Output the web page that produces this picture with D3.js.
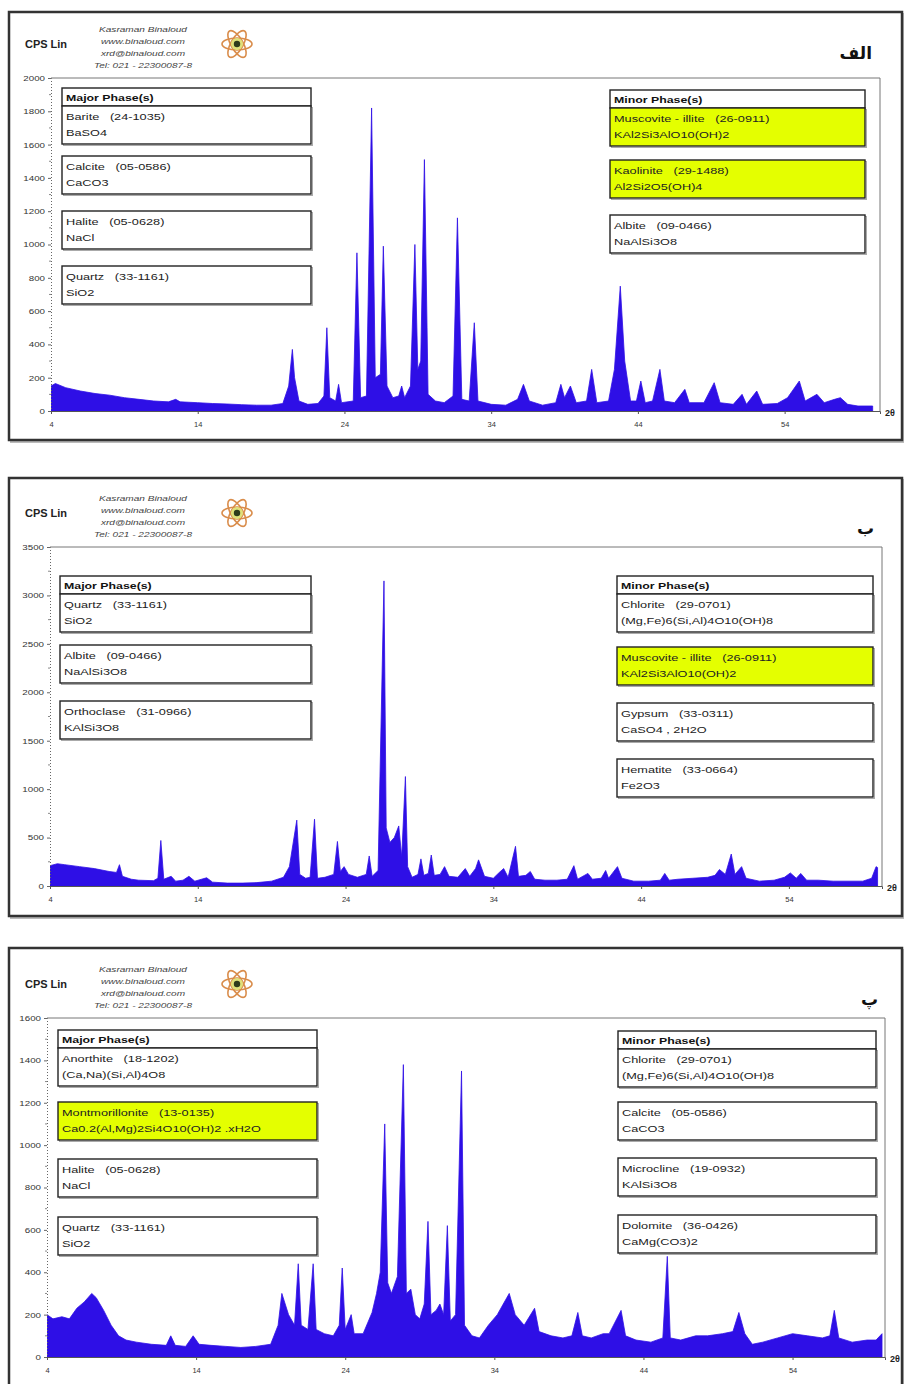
<!DOCTYPE html>
<html>
<head>
<meta charset="utf-8">
<script src="https://cdn.jsdelivr.net/npm/d3@7"></script>
<style>
  body { margin: 0; background: #fff; }
  svg { display: block; font-family: "Liberation Sans", Arial, sans-serif; }
</style>
</head>
<body>
<svg id="chart" width="904" height="1384"></svg>
<script>
// ---- data: [2theta, CPS] ----
const xTicks = [4, 14, 24, 34, 44, 54];

const scanA = [[4,150],[4.3,165],[5,140],[6,120],[7,105],[8,95],[9,80],[10,70],[11,60],[12,55],[12.5,70],[12.8,55],[14,50],[15,45],[16,42],[17,38],[18,35],[19,35],[19.8,45],[20.2,150],[20.45,370],[20.6,200],[20.9,60],[21.5,40],[22.2,45],[22.6,90],[22.8,500],[23.0,80],[23.4,60],[23.6,160],[23.8,50],[24.6,60],[24.85,950],[25.1,80],[25.5,90],[25.85,1820],[26.1,200],[26.45,220],[26.65,990],[26.9,150],[27.3,80],[27.7,90],[27.9,150],[28.1,80],[28.5,150],[28.8,1000],[29.0,250],[29.2,300],[29.45,1510],[29.7,100],[30.2,60],[30.8,50],[31.4,90],[31.7,1160],[32.0,70],[32.5,60],[32.85,530],[33.1,60],[34,40],[35,35],[35.8,70],[36.2,160],[36.6,60],[37.5,35],[38.4,50],[38.75,160],[39.0,80],[39.4,150],[39.8,50],[40.5,60],[40.85,250],[41.2,50],[42.0,60],[42.4,250],[42.8,750],[43.1,300],[43.5,60],[43.9,60],[44.2,180],[44.5,50],[45.0,60],[45.5,250],[45.8,60],[46.5,50],[47.2,130],[47.5,50],[48.5,50],[49.2,170],[49.6,50],[50.5,40],[51.1,100],[51.4,40],[52.1,120],[52.5,40],[53.5,45],[54.2,80],[55.0,180],[55.4,60],[56.2,100],[56.7,50],[57.4,70],[57.8,80],[58.3,40],[59,30],[60,30]];

const scanB = [[4,210],[4.5,230],[5,220],[6,200],[7,180],[8,150],[8.5,140],[8.7,220],[8.9,100],[9.5,70],[10,60],[11,55],[11.3,80],[11.5,470],[11.7,70],[12.2,100],[12.5,50],[13.0,60],[13.4,100],[13.8,50],[14.6,85],[15,40],[16,30],[17,30],[18,35],[19,50],[19.8,90],[20.2,200],[20.7,680],[20.9,120],[21.3,80],[21.6,90],[21.9,690],[22.1,80],[22.6,90],[23.2,120],[23.45,460],[23.65,150],[23.9,200],[24.2,120],[24.8,90],[25.4,120],[25.6,310],[25.8,100],[26.2,160],[26.6,3150],[26.75,600],[27.0,450],[27.3,500],[27.6,620],[27.8,300],[28.05,1130],[28.2,200],[28.5,90],[28.9,120],[29.1,280],[29.3,110],[29.6,130],[29.8,320],[30.0,110],[30.4,120],[30.7,200],[31.0,100],[31.6,90],[32.1,180],[32.4,100],[32.8,180],[33.0,270],[33.4,100],[34.0,80],[34.4,140],[34.7,180],[35.0,90],[35.5,410],[35.7,100],[36.2,110],[36.5,150],[36.8,70],[37.5,60],[38.3,60],[39.0,70],[39.45,210],[39.7,70],[40.4,130],[40.7,70],[41.3,80],[41.6,160],[41.8,80],[42.4,200],[42.7,80],[43.5,50],[44.5,50],[45.3,60],[45.6,130],[45.9,60],[46.5,70],[47.5,80],[48.5,90],[49.0,110],[49.3,170],[49.7,120],[50.1,330],[50.35,120],[50.8,200],[51.1,80],[52,50],[53,60],[53.7,90],[54.1,135],[54.5,80],[54.8,130],[55.2,60],[56,60],[57,50],[58,50],[59,50],[59.6,80],[59.9,200],[60,190]];

const scanC = [[4,200],[4.4,180],[5,190],[5.5,180],[6,230],[6.5,260],[7,300],[7.3,280],[7.8,220],[8.3,150],[8.8,100],[9.3,80],[10,70],[11,60],[12,55],[12.3,100],[12.6,55],[13.3,50],[13.8,100],[14.2,60],[15,55],[16,50],[17,45],[18,50],[19,60],[19.5,150],[19.75,300],[20.2,200],[20.6,150],[20.85,440],[21.05,150],[21.5,130],[21.85,440],[22.05,130],[22.6,110],[23.2,100],[23.6,150],[23.8,420],[24.0,130],[24.4,200],[24.6,110],[25.2,110],[25.8,210],[26.1,300],[26.35,400],[26.65,1100],[26.85,350],[27.1,300],[27.5,380],[27.9,1380],[28.1,300],[28.4,320],[28.7,200],[29.0,180],[29.3,250],[29.55,640],[29.75,200],[30.1,220],[30.35,250],[30.6,200],[30.85,620],[31.05,170],[31.4,200],[31.8,1350],[32.0,150],[32.5,100],[33.0,90],[33.6,150],[34.2,200],[34.6,250],[35.0,300],[35.4,200],[36.0,150],[36.7,230],[37.0,120],[37.8,100],[38.6,90],[39.2,100],[39.6,210],[39.9,100],[40.5,90],[41.3,110],[41.7,110],[42.5,220],[42.8,100],[43.5,80],[44.5,70],[45.3,90],[45.6,475],[45.8,90],[46.5,80],[47.5,100],[48.3,100],[49.3,110],[50.0,120],[50.4,210],[50.8,110],[51.3,60],[52,70],[53,90],[54,110],[55,100],[56,90],[56.5,100],[56.8,220],[57.1,90],[58,70],[59,80],[59.6,80],[60,110]];

const yTicksA = [0, 200, 400, 600, 800, 1000, 1200, 1400, 1600, 1800, 2000];
const yTicksB = [0, 500, 1000, 1500, 2000, 2500, 3000, 3500];
const yTicksC = [0, 200, 400, 600, 800, 1000, 1200, 1400, 1600];

const majorA = [["Barite   (24-1035)", "BaSO4"], ["Calcite   (05-0586)", "CaCO3"], ["Halite   (05-0628)", "NaCl"], ["Quartz   (33-1161)", "SiO2"]];
const minorA = [["Muscovite - illite   (26-0911)", "KAl2Si3AlO10(OH)2"], ["Kaolinite   (29-1488)", "Al2Si2O5(OH)4"], ["Albite   (09-0466)", "NaAlSi3O8"]];
const majorB = [["Quartz   (33-1161)", "SiO2"], ["Albite   (09-0466)", "NaAlSi3O8"], ["Orthoclase   (31-0966)", "KAlSi3O8"]];
const minorB = [["Chlorite   (29-0701)", "(Mg,Fe)6(Si,Al)4O10(OH)8"], ["Muscovite - illite   (26-0911)", "KAl2Si3AlO10(OH)2"], ["Gypsum   (33-0311)", "CaSO4 , 2H2O"], ["Hematite   (33-0664)", "Fe2O3"]];
const majorC = [["Anorthite   (18-1202)", "(Ca,Na)(Si,Al)4O8"], ["Montmorillonite   (13-0135)", "Ca0.2(Al,Mg)2Si4O10(OH)2 .xH2O"], ["Halite   (05-0628)", "NaCl"], ["Quartz   (33-1161)", "SiO2"]];
const minorC = [["Chlorite   (29-0701)", "(Mg,Fe)6(Si,Al)4O10(OH)8"], ["Calcite   (05-0586)", "CaCO3"], ["Microcline   (19-0932)", "KAlSi3O8"], ["Dolomite   (36-0426)", "CaMg(CO3)2"]];
// clay phases flagged in the reference
const clayPhases = ["Muscovite - illite", "Kaolinite", "Montmorillonite"];

const panelLabels = ["الف", "ب", "پ"];
const headerLines = ["Kasraman Binaloud", "www.binaloud.com", "xrd@binaloud.com", "Tel: 021 - 22300087-8"];

// ---- layout ----
const fillColor = '#2e0fe6'
    , boxYellow = '#e4ff00'
    , stretch = 1.3   // the original lettering is wide
    ;

const panels = [
  { scan: scanA, yTicks: yTicksA, frame: [9, 12, 893, 428], plot: { l: 51, r: 880, t: 78, b: 411 }, xEnd: 60.5,
    major: majorA, minor: minorA, majorBox: { x: 62, w: 249, ys: [88, 156, 211, 266] },
    minorBox: { x: 610, w: 255, ys: [90, 160, 215] }, labelPos: [872, 59] },
  { scan: scanB, yTicks: yTicksB, frame: [9, 478, 893, 438], plot: { l: 50, r: 882, t: 547, b: 886 }, xEnd: 60.3,
    major: majorB, minor: minorB, majorBox: { x: 60, w: 251, ys: [576, 645, 701] },
    minorBox: { x: 617, w: 256, ys: [576, 647, 703, 759] }, labelPos: [874, 534] },
  { scan: scanC, yTicks: yTicksC, frame: [9, 948, 893, 460], plot: { l: 47, r: 885, t: 1018, b: 1357 }, xEnd: 60.2,
    major: majorC, minor: minorC, majorBox: { x: 58, w: 259, ys: [1030, 1102, 1159, 1217] },
    minorBox: { x: 618, w: 258, ys: [1031, 1102, 1158, 1215] }, labelPos: [878, 1005] }
];

const svg = d3.select('#chart');

panels.forEach((p, i) => drawPanel(p, i));

function wideText(g, x, y, str, sx) {
  return g.append('text')
    .attr('transform', `translate(${x},${y}) scale(${sx},1)`)
    .attr('xml:space', 'preserve')
    .text(str);
}

function drawPanel(p, i) {
  const g = svg.append('g');
  const [fx, fy, fw, fh] = p.frame;

  // outer frame with a soft shadow
  g.append('rect')
    .attr('x', fx + 2).attr('y', fy + 2).attr('width', fw).attr('height', fh)
    .attr('fill', 'none').attr('stroke', '#bbb').attr('stroke-width', 2);
  g.append('rect')
    .attr('x', fx).attr('y', fy).attr('width', fw).attr('height', fh)
    .attr('fill', '#fff').attr('stroke', '#333').attr('stroke-width', 2.5);

  const x = d3.scaleLinear().domain([4, p.xEnd]).range([p.plot.l, p.plot.r]);
  const yMax = p.yTicks[p.yTicks.length - 1];
  const y = d3.scaleLinear().domain([0, yMax]).range([p.plot.b, p.plot.t]);

  // plot border (top + right)
  g.append('path')
    .attr('d', `M${p.plot.l},${p.plot.t}H${p.plot.r}V${p.plot.b}`)
    .attr('fill', 'none').attr('stroke', '#777').attr('stroke-width', 1);

  // pattern
  const clipId = `clip-${i}`;
  g.append('clipPath').attr('id', clipId)
    .append('rect')
      .attr('x', p.plot.l).attr('y', p.plot.t)
      .attr('width', p.plot.r - p.plot.l).attr('height', p.plot.b - p.plot.t);

  const area = d3.area()
    .x(d => x(d[0]))
    .y0(y(0))
    .y1(d => y(d[1]));

  g.append('path')
    .datum(p.scan)
    .attr('clip-path', `url(#${clipId})`)
    .attr('d', area)
    .attr('fill', fillColor)
    .attr('stroke', fillColor)
    .attr('stroke-width', 0.8)
    .attr('stroke-linejoin', 'miter');

  // y axis: dotted line, labels, minor ticks
  const step = p.yTicks[1] - p.yTicks[0];
  const yAxis = g.append('g')
    .attr('transform', `translate(${p.plot.l},0)`)
    .call(d3.axisLeft(y).tickValues(p.yTicks).tickSize(3).tickFormat(d3.format('d')));
  yAxis.select('.domain').attr('stroke', '#666').attr('stroke-dasharray', '1,2');
  yAxis.selectAll('.tick line').attr('stroke', '#666');
  yAxis.selectAll('text')
    .attr('x', null)
    .attr('transform', `translate(-6,0) scale(${stretch},1)`)
    .attr('font-size', 7.5).attr('fill', '#333');
  g.append('g').selectAll('line')
    .data(d3.range(step / 2, yMax, step))
    .join('line')
      .attr('x1', p.plot.l - 2).attr('x2', p.plot.l)
      .attr('y1', d => y(d)).attr('y2', d => y(d))
      .attr('stroke', '#888');

  // x axis
  const xAxis = g.append('g')
    .attr('transform', `translate(0,${p.plot.b})`)
    .call(d3.axisBottom(x).tickValues(xTicks).tickSize(3).tickPadding(8));
  xAxis.select('.domain').attr('stroke', '#555');
  xAxis.selectAll('.tick line').attr('stroke', '#555');
  xAxis.selectAll('text').attr('font-size', 7.5).attr('fill', '#333');

  g.append('text')
    .attr('x', p.plot.r + 5).attr('y', p.plot.b + 5)
    .attr('font-size', 9).attr('font-weight', 'bold').attr('fill', '#222')
    .text('2θ');

  // header
  const top = p.plot.t;
  wideText(g, 46, top - 30, 'CPS Lin', 1.1)
    .attr('text-anchor', 'middle')
    .attr('font-size', 10).attr('font-weight', 'bold').attr('fill', '#222');

  headerLines.forEach((line, k) => {
    wideText(g, 143, top - 46 + k * 12, line, 1.4)
      .attr('text-anchor', 'middle')
      .attr('font-size', 7.2).attr('font-style', 'italic').attr('fill', '#444');
  });

  drawLogo(g, 237, top - 34);

  g.append('text')
    .attr('x', p.labelPos[0]).attr('y', p.labelPos[1])
    .attr('text-anchor', 'end')
    .attr('font-family', '"DejaVu Sans", "Noto Sans", sans-serif')
    .attr('font-size', 17).attr('font-weight', 'bold').attr('fill', '#111')
    .text(panelLabels[i]);

  drawBoxes(g, 'Major Phase(s)', p.major, p.majorBox);
  drawBoxes(g, 'Minor Phase(s)', p.minor, p.minorBox);
}

function drawBoxes(g, title, phases, box) {
  const headH = 18
      , bodyH = 38
      ;

  phases.forEach((ph, k) => {
    let yTop = box.ys[k];
    const isClay = clayPhases.some(c => ph[0].startsWith(c));

    if (k === 0) {
      g.append('rect')
        .attr('x', box.x).attr('y', yTop).attr('width', box.w).attr('height', headH)
        .attr('fill', '#fff').attr('stroke', '#222').attr('stroke-width', 1.4);
      wideText(g, box.x + 4, yTop + 13, title, stretch)
        .attr('font-size', 9.5).attr('font-weight', 'bold').attr('fill', '#111');
      yTop += headH;
    }

    g.append('rect')
      .attr('x', box.x + 1.5).attr('y', yTop + 1.5).attr('width', box.w).attr('height', bodyH)
      .attr('fill', 'none').attr('stroke', '#aaa').attr('stroke-width', 1);
    g.append('rect')
      .attr('x', box.x).attr('y', yTop).attr('width', box.w).attr('height', bodyH)
      .attr('fill', isClay ? boxYellow : '#fff')
      .attr('stroke', '#222').attr('stroke-width', 1.4);

    wideText(g, box.x + 4, yTop + 14, ph[0], stretch)
      .attr('font-size', 9.8).attr('fill', '#222');
    wideText(g, box.x + 4, yTop + 30, ph[1], stretch)
      .attr('font-size', 9.8).attr('fill', '#222');
  });
}

function drawLogo(g, cx, cy) {
  const logo = g.append('g').attr('transform', `translate(${cx},${cy})`);
  [0, 60, 120].forEach(a => {
    logo.append('ellipse')
      .attr('rx', 15).attr('ry', 6)
      .attr('transform', `rotate(${a})`)
      .attr('fill', 'none').attr('stroke', '#d98c4a').attr('stroke-width', 1.6);
  });
  logo.append('circle').attr('r', 6).attr('fill', '#dfe07a');
  logo.append('circle').attr('r', 3.2).attr('fill', '#2e3b1c');
}
</script>
</body>
</html>
